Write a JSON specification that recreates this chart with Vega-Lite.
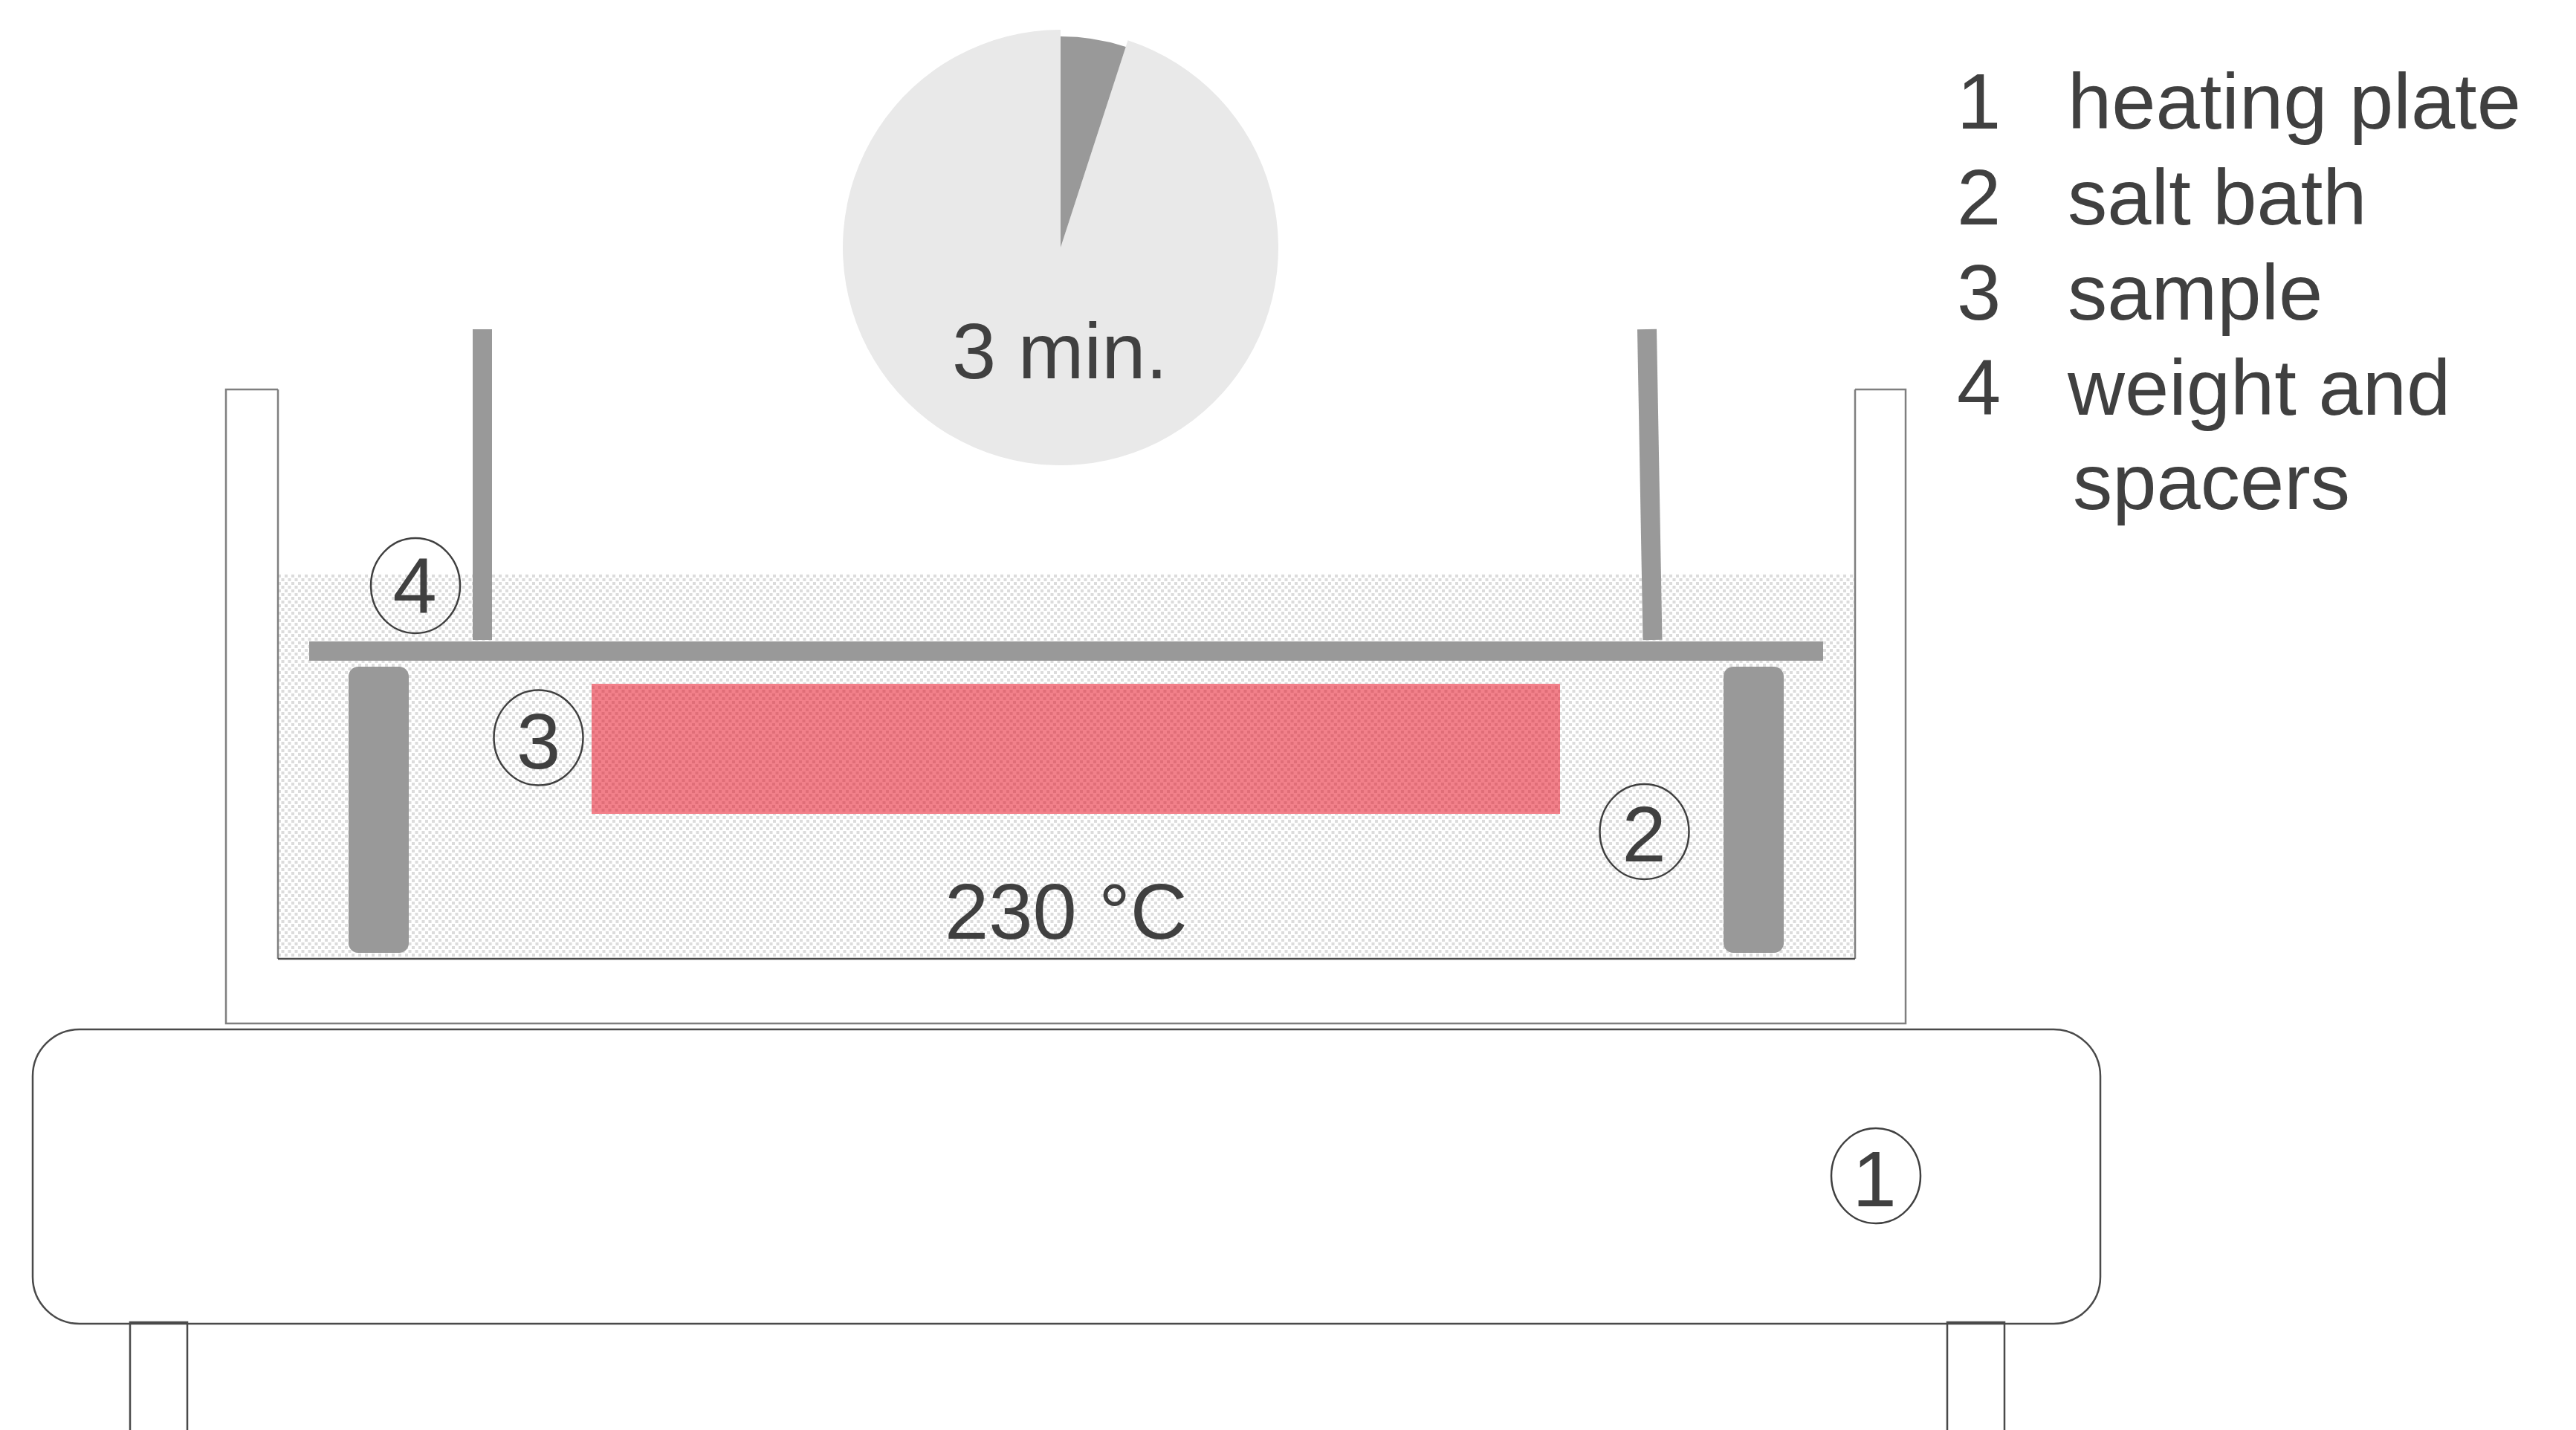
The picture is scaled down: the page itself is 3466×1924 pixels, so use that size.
{"$schema":"https://vega.github.io/schema/vega-lite/v6.json","width":3466,"height":1924,"autosize":{"type":"none"},"padding":0,"background":"#ffffff","view":{"stroke":null},"config":{"text":{"font":"Liberation Sans"}},
"datasets":{
"rowsA":[{"y":775,"x":374,"x2":2496},{"y":785,"x":374,"x2":2496},{"y":795,"x":374,"x2":2496},{"y":805,"x":374,"x2":2496},{"y":815,"x":374,"x2":2496},{"y":825,"x":374,"x2":2496},{"y":835,"x":374,"x2":2496},{"y":845,"x":374,"x2":2496},{"y":855,"x":374,"x2":2496},{"y":865,"x":374,"x2":2496},{"y":875,"x":374,"x2":2496},{"y":885,"x":374,"x2":2496},{"y":895,"x":374,"x2":2496},{"y":905,"x":374,"x2":2496},{"y":915,"x":374,"x2":2496},{"y":925,"x":374,"x2":2496},{"y":935,"x":374,"x2":2496},{"y":945,"x":374,"x2":2496},{"y":955,"x":374,"x2":2496},{"y":965,"x":374,"x2":2496},{"y":975,"x":374,"x2":2496},{"y":985,"x":374,"x2":2496},{"y":995,"x":374,"x2":2496},{"y":1005,"x":374,"x2":2496},{"y":1015,"x":374,"x2":2496},{"y":1025,"x":374,"x2":2496},{"y":1035,"x":374,"x2":2496},{"y":1045,"x":374,"x2":2496},{"y":1055,"x":374,"x2":2496},{"y":1065,"x":374,"x2":2496},{"y":1075,"x":374,"x2":2496},{"y":1085,"x":374,"x2":2496},{"y":1095,"x":374,"x2":2496},{"y":1105,"x":374,"x2":2496},{"y":1115,"x":374,"x2":2496},{"y":1125,"x":374,"x2":2496},{"y":1135,"x":374,"x2":2496},{"y":1145,"x":374,"x2":2496},{"y":1155,"x":374,"x2":2496},{"y":1165,"x":374,"x2":2496},{"y":1175,"x":374,"x2":2496},{"y":1185,"x":374,"x2":2496},{"y":1195,"x":374,"x2":2496},{"y":1205,"x":374,"x2":2496},{"y":1215,"x":374,"x2":2496},{"y":1225,"x":374,"x2":2496},{"y":1235,"x":374,"x2":2496},{"y":1245,"x":374,"x2":2496},{"y":1255,"x":374,"x2":2496},{"y":1265,"x":374,"x2":2496},{"y":1275,"x":374,"x2":2496},{"y":1285,"x":374,"x2":2496}],
"rowsB":[{"y":780,"x":374,"x2":2496},{"y":790,"x":374,"x2":2496},{"y":800,"x":374,"x2":2496},{"y":810,"x":374,"x2":2496},{"y":820,"x":374,"x2":2496},{"y":830,"x":374,"x2":2496},{"y":840,"x":374,"x2":2496},{"y":850,"x":374,"x2":2496},{"y":860,"x":374,"x2":2496},{"y":870,"x":374,"x2":2496},{"y":880,"x":374,"x2":2496},{"y":890,"x":374,"x2":2496},{"y":900,"x":374,"x2":2496},{"y":910,"x":374,"x2":2496},{"y":920,"x":374,"x2":2496},{"y":930,"x":374,"x2":2496},{"y":940,"x":374,"x2":2496},{"y":950,"x":374,"x2":2496},{"y":960,"x":374,"x2":2496},{"y":970,"x":374,"x2":2496},{"y":980,"x":374,"x2":2496},{"y":990,"x":374,"x2":2496},{"y":1000,"x":374,"x2":2496},{"y":1010,"x":374,"x2":2496},{"y":1020,"x":374,"x2":2496},{"y":1030,"x":374,"x2":2496},{"y":1040,"x":374,"x2":2496},{"y":1050,"x":374,"x2":2496},{"y":1060,"x":374,"x2":2496},{"y":1070,"x":374,"x2":2496},{"y":1080,"x":374,"x2":2496},{"y":1090,"x":374,"x2":2496},{"y":1100,"x":374,"x2":2496},{"y":1110,"x":374,"x2":2496},{"y":1120,"x":374,"x2":2496},{"y":1130,"x":374,"x2":2496},{"y":1140,"x":374,"x2":2496},{"y":1150,"x":374,"x2":2496},{"y":1160,"x":374,"x2":2496},{"y":1170,"x":374,"x2":2496},{"y":1180,"x":374,"x2":2496},{"y":1190,"x":374,"x2":2496},{"y":1200,"x":374,"x2":2496},{"y":1210,"x":374,"x2":2496},{"y":1220,"x":374,"x2":2496},{"y":1230,"x":374,"x2":2496},{"y":1240,"x":374,"x2":2496},{"y":1250,"x":374,"x2":2496},{"y":1260,"x":374,"x2":2496},{"y":1270,"x":374,"x2":2496},{"y":1280,"x":374,"x2":2496}],
"sampleA":[{"y":925,"x":796,"x2":2099},{"y":935,"x":796,"x2":2099},{"y":945,"x":796,"x2":2099},{"y":955,"x":796,"x2":2099},{"y":965,"x":796,"x2":2099},{"y":975,"x":796,"x2":2099},{"y":985,"x":796,"x2":2099},{"y":995,"x":796,"x2":2099},{"y":1005,"x":796,"x2":2099},{"y":1015,"x":796,"x2":2099},{"y":1025,"x":796,"x2":2099},{"y":1035,"x":796,"x2":2099},{"y":1045,"x":796,"x2":2099},{"y":1055,"x":796,"x2":2099},{"y":1065,"x":796,"x2":2099},{"y":1075,"x":796,"x2":2099},{"y":1085,"x":796,"x2":2099}],
"sampleB":[{"y":930,"x":796,"x2":2099},{"y":940,"x":796,"x2":2099},{"y":950,"x":796,"x2":2099},{"y":960,"x":796,"x2":2099},{"y":970,"x":796,"x2":2099},{"y":980,"x":796,"x2":2099},{"y":990,"x":796,"x2":2099},{"y":1000,"x":796,"x2":2099},{"y":1010,"x":796,"x2":2099},{"y":1020,"x":796,"x2":2099},{"y":1030,"x":796,"x2":2099},{"y":1040,"x":796,"x2":2099},{"y":1050,"x":796,"x2":2099},{"y":1060,"x":796,"x2":2099},{"y":1070,"x":796,"x2":2099},{"y":1080,"x":796,"x2":2099},{"y":1090,"x":796,"x2":2099}]
},
"encoding":{"x":{"field":"x","type":"quantitative","scale":{"domain":[0,3466],"nice":false,"zero":false},"axis":null},"y":{"field":"y","type":"quantitative","scale":{"domain":[0,1924],"reverse":true,"nice":false,"zero":false},"axis":null}},
"layer":[
{"data":{"values":[{"part":"salt bath","x":374,"x2":2496,"y":773,"y2":1290}]},"mark":{"type":"rect","fill":"#ffffff"},"encoding":{"x2":{"field":"x2"},"y2":{"field":"y2"}}},
{"data":{"name":"rowsA"},"mark":{"type":"rule","stroke":"#dcdcdc","strokeWidth":4,"strokeDash":[4,5],"strokeDashOffset":0},"encoding":{"x2":{"field":"x2"}}},
{"data":{"name":"rowsB"},"mark":{"type":"rule","stroke":"#dcdcdc","strokeWidth":4,"strokeDash":[4,5],"strokeDashOffset":4.5},"encoding":{"x2":{"field":"x2"}}},
{"data":{"values":[{"part":"sample","x":796,"x2":2099,"y":920,"y2":1095}]},"mark":{"type":"rect","fill":"#f2808a"},"encoding":{"x2":{"field":"x2"},"y2":{"field":"y2"}}},
{"data":{"name":"sampleA"},"mark":{"type":"rule","stroke":"#e06e78","strokeWidth":4,"strokeDash":[4,5],"strokeDashOffset":0},"encoding":{"x2":{"field":"x2"}}},
{"data":{"name":"sampleB"},"mark":{"type":"rule","stroke":"#e06e78","strokeWidth":4,"strokeDash":[4,5],"strokeDashOffset":4.5},"encoding":{"x2":{"field":"x2"}}},
{"data":{"values":[{"part":"plate","x":416,"x2":2453,"y":863,"y2":889},{"part":"left rod","x":636,"x2":662,"y":443,"y2":861}]},"mark":{"type":"rect","fill":"#999999"},"encoding":{"x2":{"field":"x2"},"y2":{"field":"y2"}}},
{"data":{"values":[{"part":"right rod","x":2216,"x2":2223.5,"y":443,"y2":861}]},"mark":{"type":"rule","stroke":"#999999","strokeWidth":26},"encoding":{"x2":{"field":"x2"},"y2":{"field":"y2"}}},
{"data":{"values":[{"part":"left spacer","x":469,"x2":550,"y":897,"y2":1282},{"part":"right spacer","x":2319,"x2":2400,"y":897,"y2":1282}]},"mark":{"type":"rect","fill":"#999999","cornerRadius":13},"encoding":{"x2":{"field":"x2"},"y2":{"field":"y2"}}},
{"data":{"values":[{"part":"heating plate","x":44,"x2":2826,"y":1385,"y2":1781}]},"mark":{"type":"rect","fill":"#ffffff","stroke":"#4a4a4a","strokeWidth":2.5,"cornerRadius":63},"encoding":{"x2":{"field":"x2"},"y2":{"field":"y2"}}},
{"data":{"values":[
{"g":"outer","o":1,"x":374,"y":524},{"g":"outer","o":2,"x":304,"y":524},{"g":"outer","o":3,"x":304,"y":1377},{"g":"outer","o":4,"x":2564,"y":1377},{"g":"outer","o":5,"x":2564,"y":524},{"g":"outer","o":6,"x":2496,"y":524},
{"g":"innerL","o":1,"x":374,"y":524},{"g":"innerL","o":2,"x":374,"y":1290},
{"g":"innerR","o":1,"x":2496,"y":524},{"g":"innerR","o":2,"x":2496,"y":1290}
]},"mark":{"type":"line","stroke":"#7f7f7f","strokeWidth":2.5,"strokeJoin":"miter"},"encoding":{"order":{"field":"o"},"detail":{"field":"g"}}},
{"data":{"values":[
{"g":"floor","o":1,"x":374,"y":1290},{"g":"floor","o":2,"x":2496,"y":1290},
{"g":"legL","o":1,"x":175,"y":1924},{"g":"legL","o":2,"x":175,"y":1779},{"g":"legL","o":3,"x":252,"y":1779},{"g":"legL","o":4,"x":252,"y":1924},
{"g":"legR","o":1,"x":2620,"y":1924},{"g":"legR","o":2,"x":2620,"y":1779},{"g":"legR","o":3,"x":2697,"y":1779},{"g":"legR","o":4,"x":2697,"y":1924}
]},"mark":{"type":"line","stroke":"#4a4a4a","strokeWidth":2.5,"strokeJoin":"miter"},"encoding":{"order":{"field":"o"},"detail":{"field":"g"}}},
{"data":{"values":[{"part":"remaining","x":1427,"y":333,"a":18,"a2":360,"r":293,"c":"#e9e9e9"},{"part":"elapsed","x":1427,"y":333,"a":0,"a2":18,"r":284,"c":"#999999"}]},"mark":{"type":"arc"},"encoding":{"theta":{"field":"a","type":"quantitative","stack":false,"scale":{"domain":[0,360],"range":[0,6.283185307]}},"theta2":{"field":"a2"},"radius":{"field":"r","type":"quantitative","scale":null},"fill":{"field":"c","type":"nominal","scale":null}}},
{"data":{"values":[{"x":559,"y":788,"t":"4"},{"x":724.5,"y":992.5,"t":"3"},{"x":2212.5,"y":1119,"t":"2"},{"x":2524,"y":1582,"t":"1"}]},"mark":{"type":"point","shape":"M-0.9375,0 A0.9375,1 0 1,1 0.9375,0 A0.9375,1 0 1,1 -0.9375,0 Z","size":16384,"filled":false,"stroke":"#404040","strokeWidth":2.5,"opacity":1}},
{"data":{"values":[{"x":558,"y":825,"t":"4"},{"x":724.5,"y":1034,"t":"3"},{"x":2212,"y":1159,"t":"2"},{"x":2522,"y":1623,"t":"1"},{"x":1426,"y":509,"t":"3 min."}]},"mark":{"type":"text","align":"center","baseline":"alphabetic","fontSize":106.5,"fill":"#404040"},"encoding":{"text":{"field":"t"}}},
{"data":{"values":[{"x":1271,"y":1263,"t":"230 °C"},{"x":2633,"y":173,"t":"1"},{"x":2633,"y":302,"t":"2"},{"x":2633,"y":430,"t":"3"},{"x":2633,"y":558,"t":"4"},{"x":2782,"y":173,"t":"heating plate"},{"x":2782,"y":302,"t":"salt bath"},{"x":2782,"y":430,"t":"sample"},{"x":2782,"y":558,"t":"weight and"},{"x":2789,"y":685,"t":"spacers"}]},"mark":{"type":"text","align":"left","baseline":"alphabetic","fontSize":106.5,"fill":"#404040"},"encoding":{"text":{"field":"t"}}}
]}
